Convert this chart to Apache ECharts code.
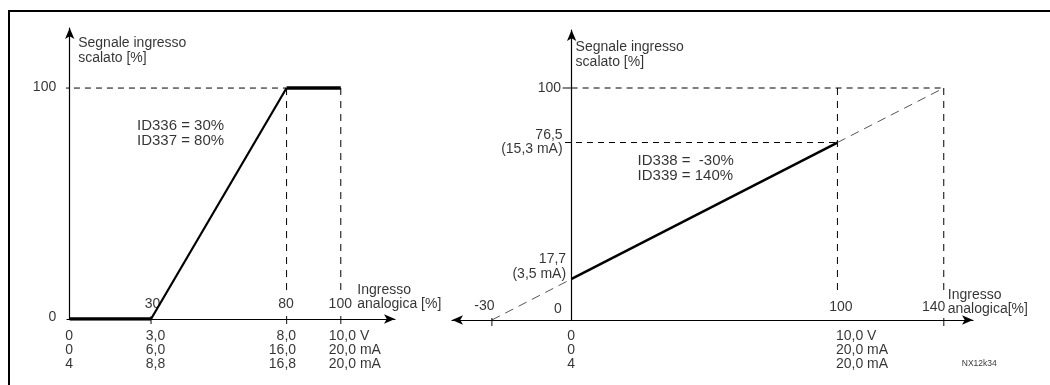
<!DOCTYPE html>
<html>
<head>
<meta charset="utf-8">
<script src="https://cdn.jsdelivr.net/npm/echarts@6/dist/echarts.min.js"></script>
<style>
  html, body { margin: 0; padding: 0; background: #fff; }
  #chart { width: 1050px; height: 385px; }
</style>
</head>
<body>
<div id="chart"></div>
<script>
// diagramma sinistro: ID336 = 30%, ID337 = 80%
const leftTicks = [0, 30, 80, 100];
const leftTickTop = ["", "30", "80", "100"];
const leftVolt = ["0", "3,0", "8,0", "10,0 V"];
const leftMa0 = ["0", "6,0", "16,0", "20,0 mA"];
const leftMa4 = ["4", "8,8", "16,8", "20,0 mA"];
const leftLow = [[0, 0], [30, 0]];
const leftRamp = [[30, 0], [80, 100]];
const leftHigh = [[80, 100], [100, 100]];

// diagramma destro: ID338 = -30%, ID339 = 140%
const rightTicks = [-30, 0, 100, 140];
const rightTickTop = ["-30", "0", "100", "140"];
const rightVolt = ["", "0", "10,0 V", ""];
const rightMa0 = ["", "0", "20,0 mA", ""];
const rightMa4 = ["", "4", "20,0 mA", ""];
const rightLine = [[0, 17.7], [100, 76.5]];
const rightExtLow = [[-30, 0], [0, 17.7]];
const rightExtHigh = [[100, 76.5], [140, 100]];
const rightYLevels = [100, 76.5, 17.7];
const rightYLabels = ["100", "76,5\n(15,3 mA)", "17,7\n(3,5 mA)"];

const FONT = '"Liberation Sans", Arial, sans-serif';

// testo ancorato a coordinate dati
function textSeries(idx, items) {
  return {
    type: "scatter",
    xAxisIndex: idx,
    yAxisIndex: idx,
    symbolSize: 1,
    silent: true,
    z: 10,
    itemStyle: { color: "rgba(0,0,0,0)" },
    data: items.map((t) => ({
      value: [t.x, t.y],
      label: {
        show: true,
        position: [0, 0],
        formatter: t.text,
        align: t.align || "left",
        verticalAlign: t.va || "middle",
        offset: [t.dx || 0, t.dy || 0],
        color: "#000",
        fontFamily: FONT,
        fontSize: t.size || 14,
        lineHeight: t.lh || 14,
      },
    })),
  };
}

function seg(idx, data, style) {
  return {
    type: "line",
    xAxisIndex: idx,
    yAxisIndex: idx,
    data: data,
    symbol: "none",
    showSymbol: false,
    silent: true,
    z: 3,
    lineStyle: style,
  };
}

const dash = { color: "#000", width: 1, type: [6, 5] };
const dashV = { color: "#000", width: 1, type: [7, 6] };
const ext = { color: "#555", width: 1, type: [9, 6] };

function tickSeries(idx, xs, offset) {
  return {
    type: "scatter",
    xAxisIndex: idx,
    yAxisIndex: idx,
    symbol: "rect",
    symbolSize: [1.2, 8],
    symbolOffset: offset,
    silent: true,
    z: 5,
    itemStyle: { color: "#000" },
    data: xs.map((x) => [x, 0]),
  };
}

function axisX(idx, min, max, both) {
  return {
    gridIndex: idx,
    type: "value",
    min: min,
    max: max,
    axisLine: {
      lineStyle: { color: "#000", width: 1.2 },
      symbol: both ? ["arrow", "arrow"] : ["none", "arrow"],
      symbolSize: [7, 11],
    },
    axisTick: { show: false },
    axisLabel: { show: false },
    splitLine: { show: false },
  };
}

function axisY(idx, max) {
  return {
    gridIndex: idx,
    type: "value",
    min: 0,
    max: max,
    axisLine: {
      lineStyle: { color: "#000", width: 1.2 },
      symbol: ["none", "arrow"],
      symbolSize: [7, 11],
    },
    axisTick: { show: false },
    axisLabel: { show: false },
    splitLine: { show: false },
  };
}

const leftAlign = ["center", "center", "right", "left"];
const leftDx = [0, 5, 10, -11.5];
const rightAlign = ["center", "center", "left", "left"];
const rightDx = [0, 0, -1, 0];

const leftText = [
  { x: 0, y: 116, dx: 9, text: "Segnale ingresso\nscalato [%]", lh: 15 },
  { x: 25, y: 80, text: "ID336 = 30%\nID337 = 80%", size: 15, lh: 15 },
  { x: 100, y: 0, dx: 17, dy: -21, text: "Ingresso\nanalogica [%]" },
  { x: 0, y: 100, dx: -13, text: "100", align: "right" },
  { x: 0, y: 0, dx: -13, dy: -1, text: "0", align: "right" },
];
leftTicks.forEach((x, i) => {
  if (leftTickTop[i]) {
    leftText.push({ x: x, y: 0, dx: i === 1 ? 2 : 0, dy: -14, text: leftTickTop[i], align: "center" });
  }
  leftText.push({
    x: x, y: 0, dx: leftDx[i], dy: 10.5, va: "top", align: leftAlign[i],
    text: [leftVolt[i], leftMa0[i], leftMa4[i]].join("\n"),
  });
});

const rightText = [
  { x: 0, y: 114, dx: 4.5, text: "Segnale ingresso\nscalato [%]", lh: 15 },
  { x: 25, y: 65, text: "ID338 =  -30%\nID339 = 140%", size: 15, lh: 15 },
  { x: 140, y: 0, dx: 4.5, dy: -17, text: "Ingresso\nanalogica[%]" },
  { x: 0, y: rightYLevels[0], dx: -10, dy: 1, text: rightYLabels[0], align: "right" },
  { x: 0, y: rightYLevels[1], dx: -8.5, text: rightYLabels[1], align: "right" },
  { x: 0, y: rightYLevels[2], dx: -5, dy: -12, text: rightYLabels[2], align: "right", lh: 15.5 },
  { x: 140, y: 0, dx: 18.5, dy: 44.5, text: "NX12k34", size: 8.5 },
];
const rightTopDx = [-7, -13.3, 4, 2];
const rightTopDy = [-13, -10.7, -12, -12];
rightTicks.forEach((x, i) => {
  rightText.push({
    x: x, y: 0, dx: rightTopDx[i], dy: rightTopDy[i], text: rightTickTop[i],
    align: i === 3 ? "right" : "center",
  });
  if (rightVolt[i]) {
    rightText.push({
      x: x, y: 0, dx: rightDx[i], dy: 9.7, va: "top", align: rightAlign[i],
      text: [rightVolt[i], rightMa0[i], rightMa4[i]].join("\n"),
    });
  }
});

const chart = echarts.init(document.getElementById("chart"), null, { renderer: "canvas" });
chart.setOption({
  animation: false,
  backgroundColor: "#fff",
  grid: [
    { left: 67, top: 28, width: 328, height: 291 },
    { left: 452, top: 30, width: 521, height: 290 },
  ],
  xAxis: [axisX(0, -1, 120, false), axisX(1, -45, 151, true)],
  yAxis: [axisY(0, 126), axisY(1, 125)],
  graphic: [
    {
      type: "rect",
      shape: { x: 9, y: 11, width: 1100, height: 420 },
      style: { fill: "none", stroke: "#000", lineWidth: 2 },
      silent: true,
    },
  ],
  series: [
    // sinistra
    seg(0, [[-2.5, 100], [80, 100]], dash),
    seg(0, [[80, 100], [80, 12]], dashV),
    seg(0, [[100, 100], [100, 12]], dashV),
    seg(0, leftLow, { color: "#000", width: 3.5 }),
    seg(0, leftRamp, { color: "#000", width: 2.2 }),
    seg(0, leftHigh, { color: "#000", width: 3.5 }),
    tickSeries(0, [30, 80, 100], [0, 1]),
    textSeries(0, leftText),
    // destra
    seg(1, [[0, 100], [140, 100]], dash),
    seg(1, [[-2.5, 76.5], [100, 76.5]], dash),
    seg(1, [[100, 100], [100, 12]], dashV),
    seg(1, [[140, 100], [140, 12]], dashV),
    seg(1, rightExtLow, ext),
    seg(1, rightExtHigh, ext),
    seg(1, rightLine, { color: "#000", width: 2.5 }),
    tickSeries(1, [-30, 140], [0, 2]),
    {
      type: "scatter",
      xAxisIndex: 1,
      yAxisIndex: 1,
      symbol: "rect",
      symbolSize: [9, 1.2],
      symbolOffset: [-4.5, 0],
      silent: true,
      itemStyle: { color: "#000" },
      data: [[0, 100]],
    },
    textSeries(1, rightText),
  ],
});
</script>
</body>
</html>
